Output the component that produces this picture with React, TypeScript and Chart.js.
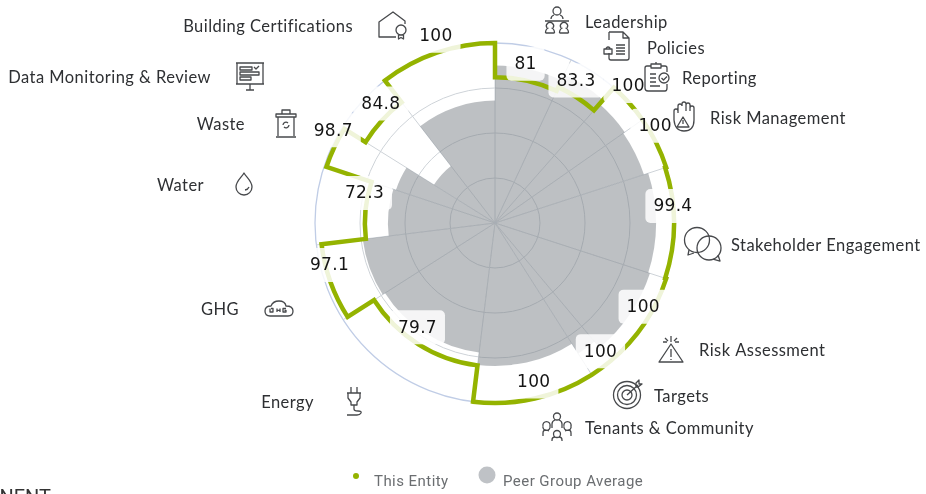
import React, { useEffect, useRef } from "react";
import { Chart, registerables } from "chart.js";

Chart.register(...registerables);

const categories = [
  "Leadership", "Policies", "Reporting", "Risk Management", "Stakeholder Engagement",
  "Risk Assessment", "Targets", "Tenants & Community", "Energy", "GHG", "Water",
  "Waste", "Data Monitoring & Review", "Building Certifications",
];
const thisEntity = [81, 83.3, 100, 100, 99.4, 100, 100, 100, 79.7, 97.1, 72.3, 98.7, 84.8, 100];
const peerGroupAverage = [87.5, 91, 88, 87, 89.5, 90.5, 86, 79.5, 72.5, 74, 59.5, 58, 40, 68];
const sectorDegrees = [25, 16.3, 13.7, 17, 36, 32, 7.5, 39.5, 50.5, 25.5, 25.4, 13.6, 20.3, 37.7];

const GREEN = "#94b300";
const INK = "#2e3033";
const ICON = "#47494c";
const LABEL_FONT = "16.5px Lato";
const VALUE_FONT = "17px 'DejaVu Sans'";

const ICONS: Record<string, string[]> = {
  Leadership: [
    "M-4 -9a4 4 0 1 1 8 0a4 4 0 1 1 -8 0M-6 -1q0 -3 3 -4M6 -1q0 -3 -3 -4M-12 1H12",
    "M-10 8a3.6 3.6 0 1 1 6 0M-11.5 13q0 -4 3 -5M-2.5 13q0 -4 -3 -5M-11.5 13H-2.5",
    "M4 8a3.6 3.6 0 1 1 6 0M2.5 13q0 -4 3 -5M11.5 13q0 -4 -3 -5M2.5 13H11.5",
  ],
  Policies: [
    "M-8 -14H6L12 -8V12Q12 14 10 14H-6Q-8 14 -8 12V7M-8 -6V-14M6 -14V-8H12",
    "M-1 -1H8M-1 2H8M-1 5H8M-1 8H8",
    "M-13 8V3H-5V8ZM-11 3a2 2 0 1 1 4 0",
  ],
  Reporting: [
    "M-10 -11H-6M4 -11H8Q10 -11 10 -9V-5M10 7V11Q10 14 8 14H-9Q-12 14 -12 11V-9Q-12 -11 -10 -11",
    "M-6 -13H4V-9H-6ZM-1 -13v-2",
    "M-7 -3H-1M-7 1H-1M-7 5H-1M-7 9H3",
    "M2 1a5 5 0 1 0 10 0a5 5 0 1 0 -10 0M4.5 1l2 2l3.5 -3.5",
  ],
  "Risk Management": [
    "M-9 -4V-2M-5 -4V-11a2 2 0 0 1 4 0M-1 -11V-13a2 2 0 0 1 4 0V-6M3 -12a2 2 0 0 1 4 0V-6M7 -9a2 2 0 0 1 4 0V3Q11 14 1 14Q-8 14 -9 3V-6a2 2 0 0 1 4 0",
    "M0 0L6 10H-6Z",
    "M0 3V7",
  ],
  "Stakeholder Engagement": [
    "M-18.5 -5a12.5 12.5 0 1 1 25 0a12.5 12.5 0 1 1 -25 0",
    "M-14 5L-15 10L-9 8",
    "M-6 3a12 12 0 1 1 24 0a12 12 0 1 1 -24 0",
    "M10 14L17 16L15 10",
  ],
  "Risk Assessment": [
    "M0 -5L12 13H-12Z",
    "M0 0V8M0 10V11",
    "M0 -13V-7M-6 -11L-3 -8M6 -11L3 -8M-8 -7H-4M8 -7H4",
  ],
  Targets: [
    "M-13.5 1a13.5 13.5 0 1 0 27 0a13.5 13.5 0 1 0 -27 0",
    "M-9.5 1a9.5 9.5 0 1 0 19 0a9.5 9.5 0 1 0 -19 0",
    "M-5 1a5 5 0 1 0 10 0a5 5 0 1 0 -10 0",
    "M0 1L11 -9M9 -7V-11L12 -14V-10H15L11 -7Z",
  ],
  "Tenants & Community": [
    "M-3.5 -10.5a3.5 3.5 0 1 1 7 0a3.5 3.5 0 1 1 -7 0M-5 1V-3Q-5 -6 -2 -7M5 1V-3Q5 -6 2 -7",
    "M-14 -1a3.6 3.6 0 1 1 7 0a3.6 3.6 0 1 1 -7 0M-14 9V6q0 -3 3 -3l3 1",
    "M7 -1a3.6 3.6 0 1 1 7 0a3.6 3.6 0 1 1 -7 0M14 9V6q0 -3 -3 -3l-3 1",
    "M-3.5 7a3.5 3.5 0 1 1 7 0a3.5 3.5 0 1 1 -7 0M-5 14v-1q0 -3 3 -3M5 14v-1q0 -3 -3 -3",
  ],
  Energy: [
    "M-3 -14V-8M3 -14V-8M-7 -8H7M-6 -8V-3L-3 1V4H3V1L6 -3V-8",
    "M0 4V8Q0 10 4 10Q8 10 7 12Q6 14 3 14H-7",
  ],
  GHG: [
    "M-9 7Q-14 7 -14 2Q-14 -3 -8 -3Q-6 -8 0 -8Q6 -8 7 -3Q14 -3 14 2Q14 7 9 7Z",
    "M-8 -0.5H-6V3H-9V-0.5M-2 -0.5V3M1 -0.5V3M-2 1.3H1M7 -0.5H4V3H7V1.3H5.5",
  ],
  Water: [
    "M0 -11C2 -7 8 -3 8 3A8 8 0 0 1 -8 3C-8 -3 -2 -7 0 -11Z",
    "M1 6Q4 5.5 5 3",
  ],
  Waste: [
    "M-10 -9H10V-6H-10ZM-4 -9V-13H4V-9M-8 -6V13M8 -6V13M-10 14H10",
    "M-3 2a3 3 0 0 1 5 -2M3 2a3 3 0 0 1 -5 2",
  ],
  "Data Monitoring & Review": [
    "M-14 -13H14M-13 -13V8H13V-13M-14 8H14M0 8V14M-4 14H4",
    "M-10 -9H2V-6H-10ZM-10 -4H9V-1H-10ZM-10 1H1V4H-10Z",
    "M4 -9l2 2l3 -3",
  ],
  "Building Certifications": [
    "M-14 2V-4L0 -14L12 -5V-2M-14 -4V11H3",
    "M3 4a5 5 0 1 0 10 0a5 5 0 1 0 -10 0M5.5 9V13L8 11.5L10.5 13V9",
  ],
};

const spots: Record<string, { x: number; y: number; align: CanvasTextAlign; ix: number; iy: number }> = {
  Leadership: { x: 585, y: 23, align: "left", ix: 557, iy: 20 },
  Policies: { x: 647, y: 49, align: "left", ix: 617, iy: 46 },
  Reporting: { x: 682, y: 79, align: "left", ix: 657, iy: 77 },
  "Risk Management": { x: 710, y: 119, align: "left", ix: 683, iy: 117 },
  "Stakeholder Engagement": { x: 731, y: 246, align: "left", ix: 703, iy: 245 },
  "Risk Assessment": { x: 699, y: 351, align: "left", ix: 671, iy: 349 },
  Targets: { x: 654, y: 397, align: "left", ix: 627, iy: 394 },
  "Tenants & Community": { x: 585, y: 429, align: "left", ix: 557, iy: 427 },
  Energy: { x: 314, y: 403, align: "right", ix: 354, iy: 401 },
  GHG: { x: 239, y: 310, align: "right", ix: 279, iy: 309 },
  Water: { x: 204, y: 186, align: "right", ix: 244, iy: 184 },
  Waste: { x: 245, y: 125, align: "right", ix: 286, iy: 123 },
  "Data Monitoring & Review": { x: 211, y: 78, align: "right", ix: 250, iy: 76 },
  "Building Certifications": { x: 353, y: 27, align: "right", ix: 393, iy: 26 },
};

const roundedBox = (ctx: CanvasRenderingContext2D, x: number, y: number, w: number, h: number) => {
  ctx.beginPath();
  ctx.roundRect(x, y, w, h, 5);
  ctx.fill();
};

const sectorPlugin = {
  id: "sectorPlugin",
  beforeDatasetsDraw(chart: any) {
    const ctx = chart.ctx;
    const scale = chart.scales.r;
    const arcs = chart.getDatasetMeta(1).data;
    const R = scale.getDistanceFromCenterForValue(100);
    ctx.save();
    ctx.strokeStyle = "rgb(206,211,216)";
    ctx.lineWidth = 1;
    arcs.forEach((arc: any) => {
      ctx.beginPath();
      ctx.moveTo(scale.xCenter, scale.yCenter);
      ctx.lineTo(scale.xCenter + R * Math.cos(arc.startAngle), scale.yCenter + R * Math.sin(arc.startAngle));
      ctx.stroke();
    });
    ctx.restore();
  },
  afterDatasetsDraw(chart: any) {
    const ctx = chart.ctx;
    const scale = chart.scales.r;
    const arcs = chart.getDatasetMeta(0).data;
    ctx.save();
    // This Entity outline
    ctx.strokeStyle = GREEN;
    ctx.lineWidth = 4.5;
    ctx.lineJoin = "miter";
    ctx.beginPath();
    arcs.forEach((arc: any) => {
      ctx.arc(scale.xCenter, scale.yCenter, arc.outerRadius, arc.startAngle, arc.endAngle);
    });
    ctx.closePath();
    ctx.stroke();
    // Value labels
    ctx.font = VALUE_FONT;
    (ctx as any).letterSpacing = "0.3px";
    ctx.textAlign = "center";
    ctx.textBaseline = "middle";
    arcs.forEach((arc: any, i: number) => {
      const mid = (arc.startAngle + arc.endAngle) / 2;
      const x = scale.xCenter + arc.outerRadius * Math.cos(mid) - 1;
      const y = scale.yCenter + arc.outerRadius * Math.sin(mid) - 17;
      const text = String(thisEntity[i]);
      const w = ctx.measureText(text).width + 16;
      ctx.fillStyle = "rgba(255,255,255,0.85)";
      roundedBox(ctx, x - w / 2, y - 17, w, 34);
    });
    ctx.fillStyle = "#141414";
    arcs.forEach((arc: any, i: number) => {
      const mid = (arc.startAngle + arc.endAngle) / 2;
      const x = scale.xCenter + arc.outerRadius * Math.cos(mid) - 1;
      const y = scale.yCenter + arc.outerRadius * Math.sin(mid) - 17;
      ctx.fillText(String(thisEntity[i]), x, y + 1);
    });
    // Category labels and icons
    ctx.textBaseline = "middle";
    categories.forEach((name) => {
      const s = spots[name];
      ctx.font = LABEL_FONT;
      (ctx as any).letterSpacing = "0.45px";
      ctx.textAlign = s.align;
      ctx.fillStyle = INK;
      ctx.fillText(name, s.x, s.y);
      (ctx as any).letterSpacing = "0px";
      ctx.save();
      ctx.translate(s.ix, s.iy);
      ctx.strokeStyle = ICON;
      ctx.lineWidth = 1.3;
      ctx.lineJoin = "round";
      ICONS[name].forEach((p) => ctx.stroke(new Path2D(p)));
      ctx.restore();
    });
    // Legend
    ctx.textAlign = "left";
    ctx.font = "15px Roboto";
    (ctx as any).letterSpacing = "0.45px";
    ctx.fillStyle = "#6b6e71";
    ctx.fillText("This Entity", 374, 482);
    ctx.fillText("Peer Group Average", 503, 482);
    (ctx as any).letterSpacing = "0px";
    ctx.fillStyle = GREEN;
    ctx.beginPath();
    ctx.arc(356, 476, 3, 0, Math.PI * 2);
    ctx.fill();
    ctx.fillStyle = "#bfc2c6";
    ctx.beginPath();
    ctx.arc(487, 475, 8.5, 0, Math.PI * 2);
    ctx.fill();
    // Clipped heading at the bottom edge
    ctx.font = "20px Roboto";
    ctx.textAlign = "right";
    ctx.textBaseline = "alphabetic";
    ctx.fillStyle = "#333";
    ctx.fillText("COMPONENT", 51, 504);
    ctx.restore();
  },
};

export default function App() {
  const ref = useRef<HTMLCanvasElement | null>(null);
  useEffect(() => {
    const chart = new Chart(ref.current as HTMLCanvasElement, {
      type: "polarArea",
      data: {
        labels: categories,
        datasets: [
          {
            label: "This Entity",
            data: thisEntity,
            angle: sectorDegrees,
            backgroundColor: "rgba(0,0,0,0)",
            borderWidth: 0,
          },
          {
            label: "Peer Group Average",
            data: peerGroupAverage,
            angle: sectorDegrees,
            backgroundColor: "rgba(124,130,136,0.5)",
            borderWidth: 0,
          },
        ] as any,
      },
      options: {
        responsive: false,
        animation: false,
        layout: { padding: { left: 64, top: 43, bottom: 91, right: 0 } },
        plugins: { legend: { display: false }, tooltip: { enabled: false }, title: { display: false } },
        scales: {
          r: {
            min: 0,
            max: 100,
            ticks: { display: false, stepSize: 25 },
            grid: {
              circular: true,
              lineWidth: (c: any) => (c.tick && c.tick.value === 100 ? 1.3 : 1),
              color: (c: any) => (c.tick && c.tick.value === 100 ? "rgb(192,205,230)" : "rgb(206,211,216)"),
            },
            angleLines: { display: false },
            pointLabels: { display: false },
          },
        },
      } as any,
      plugins: [sectorPlugin],
    });
    return () => chart.destroy();
  }, []);
  return (
    <div style={{ position: "fixed", left: 0, top: 0, width: 926, height: 494, background: "#fff", overflow: "hidden" }}>
      <canvas ref={ref} width={926} height={494} style={{ display: "block" }} />
    </div>
  );
}
